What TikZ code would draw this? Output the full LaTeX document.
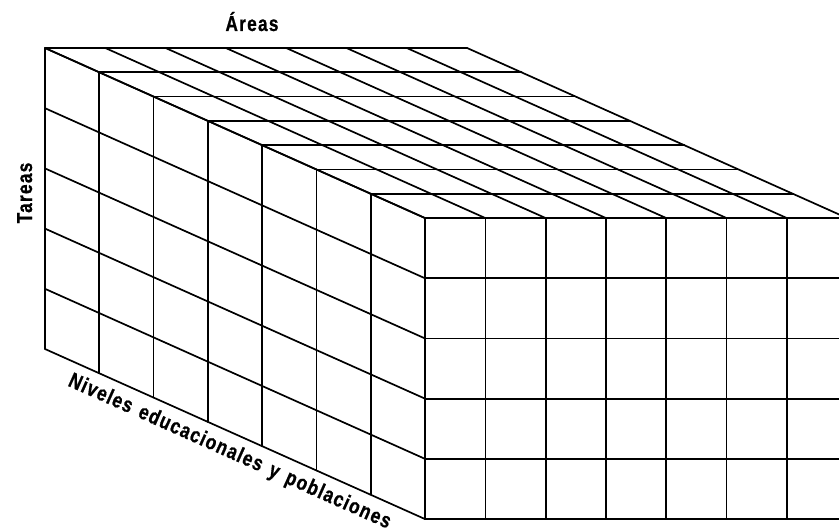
\documentclass[tikz,border=0pt]{standalone}
\usepackage{fontspec}
\newfontfamily\labfont[FakeStretch=0.8,LetterSpace=6,FakeBold=0.8]{Liberation Sans}
\begin{document}
\begin{tikzpicture}[x=1pt,y=-1pt,
  gridline/.style={line width=1.7pt, line cap=round, line join=round},
  lab/.style={font=\labfont\bfseries\fontsize{21.5}{24}\selectfont, inner sep=0pt}]
\useasboundingbox (0,0) rectangle (839,532);
\def\orgx{45}\def\orgy{48}
\def\cellw{60.3}\def\depx{54.3}\def\depy{24.3}\def\cellh{60.2}
% top face
\foreach \j in {0,...,7} \draw[gridline] ({\orgx+\j*\depx},{\orgy+\j*\depy}) -- ++({7*\cellw},0);
\foreach \i in {0,...,7} \draw[gridline] ({\orgx+\i*\cellw},\orgy) -- ++({7*\depx},{7*\depy});
% left face
\foreach \j in {0,...,7} \draw[gridline] ({\orgx+\j*\depx},{\orgy+\j*\depy}) -- ++(0,{5*\cellh});
\foreach \k in {0,...,5} \draw[gridline] (\orgx,{\orgy+\k*\cellh}) -- ++({7*\depx},{7*\depy});
% front face
\foreach \i in {0,...,7} \draw[gridline] ({\orgx+7*\depx+\i*\cellw},{\orgy+7*\depy}) -- ++(0,{5*\cellh});
\foreach \k in {0,...,5} \draw[gridline] ({\orgx+7*\depx},{\orgy+7*\depy+\k*\cellh}) -- ++({7*\cellw},0);
% labels
\node[lab, anchor=base] (areas) at (252,31) {Áreas};
\node[lab, rotate=90, anchor=base] (tareas) at (32,193) {Tareas};
\node[lab, rotate=-24.1, anchor=base west] (niveles) at (67,385.5) {Niveles\hspace{0.12em} educacionales\hspace{0.12em} y\hspace{0.12em} poblaciones};
\end{tikzpicture}
\end{document}
